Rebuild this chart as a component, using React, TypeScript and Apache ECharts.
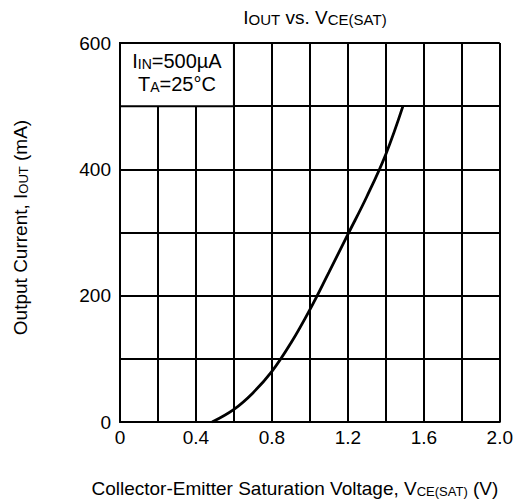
import React, { useEffect, useRef } from "react";
import * as echarts from "echarts";

const vceValues = [0.485, 0.6, 0.7, 0.8, 0.9, 1.0, 1.1, 1.2, 1.3, 1.4, 1.49];
const ioutValues = [0, 20, 46, 80, 125, 178, 237, 297, 357, 424, 500];
const xTickLabels = ["0", "0.4", "0.8", "1.2", "1.6", "2.0"];
const yTickLabels = ["0", "200", "400", "600"];
const noteBox = { x0: 0, x1: 0.6, y0: 500, y1: 600 };

const FONT = "Liberation Sans, Arial, sans-serif";

const rich = (big: number, small: number, lh: number) => ({
  n: { fontSize: big, fontFamily: FONT, color: "#000", fontWeight: "normal", lineHeight: lh, verticalAlign: "bottom" },
  s: { fontSize: small, fontFamily: FONT, color: "#000", fontWeight: "normal", lineHeight: lh - 3, verticalAlign: "bottom" },
});

export default function App() {
  const ref = useRef<HTMLDivElement>(null);
  useEffect(() => {
    if (!ref.current) return;
    const chart = echarts.init(ref.current, undefined, { renderer: "svg" });
    const data = vceValues.map((v, i) => [v, ioutValues[i]]);
    chart.setOption({
      animation: false,
      backgroundColor: "#fff",
      textStyle: { fontFamily: FONT, color: "#000" },
      title: {
        text: "{n|I}{s|OUT}{n| vs. V}{s|CE(SAT)}",
        left: 310,
        top: 0,
        textAlign: "center",
        textStyle: { fontWeight: "normal", rich: rich(19, 15, 22) },
      },
      grid: { left: 120, right: 15, top: 43, bottom: 81, show: false },
      xAxis: {
        type: "value",
        min: 0,
        max: 2.0,
        interval: 0.2,
        name: "{n|Collector-Emitter Saturation Voltage, V}{s|CE(SAT)}{n| (V)}",
        nameLocation: "middle",
        nameGap: 52,
        nameTextStyle: { padding: [0, 30, 0, 0], rich: rich(19, 13, 24) },
        axisLine: { show: true, lineStyle: { color: "#000", width: 2 } },
        axisTick: { show: false },
        axisLabel: {
          fontSize: 19,
          fontFamily: FONT,
          color: "#000",
          margin: 6,
          formatter: (v: number) => {
            const lbl = v === 0 ? "0" : v.toFixed(1);
            return xTickLabels.includes(lbl) ? lbl : "";
          },
        },
        splitLine: { show: true, lineStyle: { color: "#000", width: 2 } },
      },
      yAxis: {
        type: "value",
        min: 0,
        max: 600,
        interval: 100,
        name: "{n|Output Current, I}{s|OUT}{n| (mA)}",
        nameLocation: "middle",
        nameGap: 90,
        nameRotate: 90,
        nameTextStyle: { padding: [0, 0, 0, 10], rich: rich(19, 13, 24) },
        axisLine: { show: true, lineStyle: { color: "#000", width: 2 } },
        axisTick: { show: false },
        axisLabel: {
          fontSize: 19,
          fontFamily: FONT,
          color: "#000",
          margin: 9,
          formatter: (v: number) => (yTickLabels.includes(String(v)) ? String(v) : ""),
        },
        splitLine: { show: true, lineStyle: { color: "#000", width: 2 } },
      },
      series: [
        {
          type: "line",
          data,
          smooth: 0.4,
          symbol: "none",
          lineStyle: { color: "#000", width: 2.8 },
          markArea: {
            silent: true,
            itemStyle: { color: "#fff", borderColor: "#000", borderWidth: 2 },
            label: {
              show: true,
              position: "inside",
              offset: [0, -4],
              formatter: "{n|I}{s|IN}{n|=500µA}\n{n|T}{s|A}{n|=25°C}",
              rich: rich(20, 14, 23),
            },
            data: [
              [
                { xAxis: noteBox.x0, yAxis: noteBox.y0 },
                { xAxis: noteBox.x1, yAxis: noteBox.y1 },
              ],
            ],
          },
        },
      ],
    });
    return () => chart.dispose();
  }, []);
  return (
    <div
      ref={ref}
      style={{ position: "fixed", left: 0, top: 0, width: 516, height: 503 }}
    />
  );
}
